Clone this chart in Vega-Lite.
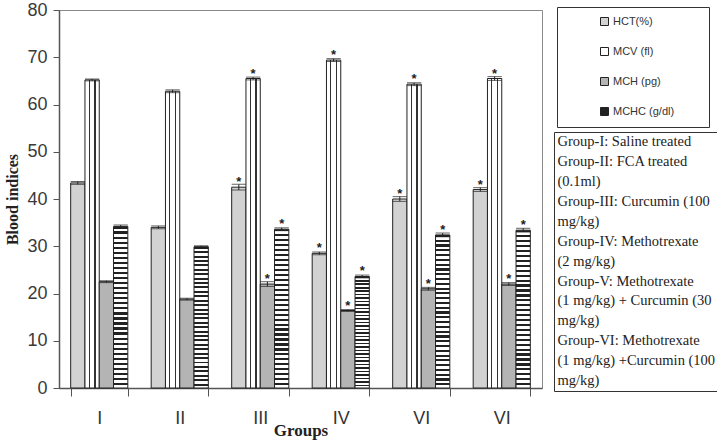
{
  "$schema": "https://vega.github.io/schema/vega-lite/v6.json",
  "width": 483,
  "height": 378,
  "autosize": {"type": "none"},
  "padding": {"left": 59, "top": 10, "right": 175, "bottom": 56},
  "background": "white",
  "config": {"view": {"stroke": "#8a8a8a", "strokeWidth": 1}, "font": "Liberation Sans"},
  "datasets": {
    "bars": [
      {"group": "I", "metric": "HCT(%)", "value": 43.4, "err": 0.3, "sig": ""},
      {"group": "I", "metric": "MCV (fl)", "value": 65.2, "err": 0.2, "sig": ""},
      {"group": "I", "metric": "MCH (pg)", "value": 22.5, "err": 0.2, "sig": ""},
      {"group": "I", "metric": "MCHC (g/dl)", "value": 34.2, "err": 0.3, "sig": ""},
      {"group": "II", "metric": "HCT(%)", "value": 34.0, "err": 0.3, "sig": ""},
      {"group": "II", "metric": "MCV (fl)", "value": 62.8, "err": 0.3, "sig": ""},
      {"group": "II", "metric": "MCH (pg)", "value": 18.8, "err": 0.2, "sig": ""},
      {"group": "II", "metric": "MCHC (g/dl)", "value": 29.9, "err": 0.2, "sig": ""},
      {"group": "III", "metric": "HCT(%)", "value": 42.5, "err": 0.6, "sig": "*"},
      {"group": "III", "metric": "MCV (fl)", "value": 65.5, "err": 0.3, "sig": "*"},
      {"group": "III", "metric": "MCH (pg)", "value": 22.0, "err": 0.5, "sig": "*"},
      {"group": "III", "metric": "MCHC (g/dl)", "value": 33.6, "err": 0.3, "sig": "*"},
      {"group": "IV", "metric": "HCT(%)", "value": 28.5, "err": 0.3, "sig": "*"},
      {"group": "IV", "metric": "MCV (fl)", "value": 69.4, "err": 0.3, "sig": "*"},
      {"group": "IV", "metric": "MCH (pg)", "value": 16.4, "err": 0.2, "sig": "*"},
      {"group": "IV", "metric": "MCHC (g/dl)", "value": 23.6, "err": 0.3, "sig": "*"},
      {"group": "V", "metric": "HCT(%)", "value": 40.0, "err": 0.5, "sig": "*"},
      {"group": "V", "metric": "MCV (fl)", "value": 64.3, "err": 0.3, "sig": "*"},
      {"group": "V", "metric": "MCH (pg)", "value": 21.0, "err": 0.3, "sig": "*"},
      {"group": "V", "metric": "MCHC (g/dl)", "value": 32.4, "err": 0.4, "sig": "*"},
      {"group": "VI", "metric": "HCT(%)", "value": 42.0, "err": 0.4, "sig": "*"},
      {"group": "VI", "metric": "MCV (fl)", "value": 65.5, "err": 0.4, "sig": "*"},
      {"group": "VI", "metric": "MCH (pg)", "value": 22.0, "err": 0.3, "sig": "*"},
      {"group": "VI", "metric": "MCHC (g/dl)", "value": 33.4, "err": 0.4, "sig": "*"}
    ],
    "notes": [
      {"line": "Group-I: Saline treated"},
      {"line": "Group-II: FCA treated"},
      {"line": "(0.1ml)"},
      {"line": "Group-III: Curcumin (100"},
      {"line": "mg/kg)"},
      {"line": "Group-IV: Methotrexate"},
      {"line": "(2 mg/kg)"},
      {"line": "Group-V: Methotrexate"},
      {"line": "(1 mg/kg) + Curcumin (30"},
      {"line": "mg/kg) "},
      {"line": "Group-VI: Methotrexate"},
      {"line": "(1 mg/kg) +Curcumin (100"},
      {"line": "mg/kg)  "}
    ]
  },
  "layer": [
    {
      "data": {"name": "bars"},
      "encoding": {
        "x": {
          "field": "group", "type": "nominal",
          "scale": {"domain": ["I", "II", "III", "IV", "V", "VI"], "paddingInner": 0.29, "paddingOuter": 0.145},
          "axis": {
            "title": "Groups", "titleFont": "Liberation Serif", "titleFontSize": 17, "titleFontWeight": "bold", "titleColor": "#222",
            "titleBaseline": "alphabetic", "titleY": 47,
            "labelFont": "Liberation Sans", "labelFontSize": 18, "labelColor": "#333", "labelAngle": 0, "labelPadding": 13,
            "labelExpr": "datum.label == 'V' ? 'VI' : datum.label",
            "tickBand": "extent", "tickSize": 8, "tickColor": "#555", "domainColor": "#555", "domainWidth": 1.5
          }
        },
        "xOffset": {
          "field": "metric", "type": "nominal",
          "scale": {"domain": ["HCT(%)", "MCV (fl)", "MCH (pg)", "MCHC (g/dl)"], "paddingInner": 0, "paddingOuter": 0}
        },
        "y": {
          "field": "value", "type": "quantitative", "title": "Blood indices",
          "scale": {"domain": [0, 80], "nice": false},
          "axis": {
            "title": "Blood indices", "titleFont": "Liberation Serif", "titleFontSize": 16, "titleFontWeight": "bold", "titleColor": "#222", "titlePadding": 6,
            "labelFont": "Liberation Sans", "labelFontSize": 18, "labelColor": "#3a3a3a", "labelPadding": 6,
            "values": [0, 10, 20, 30, 40, 50, 60, 70, 80], "grid": false,
            "tickSize": 6, "tickColor": "#555", "domainColor": "#555", "domainWidth": 1.5
          }
        }
      },
      "layer": [
        {
          "mark": {"type": "bar", "stroke": "#222", "strokeWidth": 1},
          "encoding": {
            "fill": {
              "field": "metric", "type": "nominal",
              "scale": {
                "domain": ["HCT(%)", "MCV (fl)", "MCH (pg)", "MCHC (g/dl)"],
                "range": [
                  "#d2d2d2",
                  {"expr": "{gradient:'linear',x1:0,y1:0,x2:1,y2:0,stops:[{offset:0,color:'#fff'},{offset:0.26,color:'#fff'},{offset:0.26,color:'#333'},{offset:0.34,color:'#333'},{offset:0.34,color:'#fff'},{offset:0.66,color:'#fff'},{offset:0.66,color:'#333'},{offset:0.74,color:'#333'},{offset:0.74,color:'#fff'},{offset:1,color:'#fff'}]}"},
                  "#b4b4b4",
                  {"expr": "{gradient:'linear',x1:0.5,y1:0,x2:0.5,y2:1,stops:[{offset:0,color:'#222'},{offset:0.014,color:'#222'},{offset:0.014,color:'#fff'},{offset:0.03125,color:'#fff'},{offset:0.03125,color:'#222'},{offset:0.04525,color:'#222'},{offset:0.04525,color:'#fff'},{offset:0.0625,color:'#fff'},{offset:0.0625,color:'#222'},{offset:0.0765,color:'#222'},{offset:0.0765,color:'#fff'},{offset:0.09375,color:'#fff'},{offset:0.09375,color:'#222'},{offset:0.10775,color:'#222'},{offset:0.10775,color:'#fff'},{offset:0.125,color:'#fff'},{offset:0.125,color:'#222'},{offset:0.139,color:'#222'},{offset:0.139,color:'#fff'},{offset:0.15625,color:'#fff'},{offset:0.15625,color:'#222'},{offset:0.17025,color:'#222'},{offset:0.17025,color:'#fff'},{offset:0.1875,color:'#fff'},{offset:0.1875,color:'#222'},{offset:0.2015,color:'#222'},{offset:0.2015,color:'#fff'},{offset:0.21875,color:'#fff'},{offset:0.21875,color:'#222'},{offset:0.23275,color:'#222'},{offset:0.23275,color:'#fff'},{offset:0.25,color:'#fff'},{offset:0.25,color:'#222'},{offset:0.264,color:'#222'},{offset:0.264,color:'#fff'},{offset:0.28125,color:'#fff'},{offset:0.28125,color:'#222'},{offset:0.29525,color:'#222'},{offset:0.29525,color:'#fff'},{offset:0.3125,color:'#fff'},{offset:0.3125,color:'#222'},{offset:0.3265,color:'#222'},{offset:0.3265,color:'#fff'},{offset:0.34375,color:'#fff'},{offset:0.34375,color:'#222'},{offset:0.35775,color:'#222'},{offset:0.35775,color:'#fff'},{offset:0.375,color:'#fff'},{offset:0.375,color:'#222'},{offset:0.389,color:'#222'},{offset:0.389,color:'#fff'},{offset:0.40625,color:'#fff'},{offset:0.40625,color:'#222'},{offset:0.42025,color:'#222'},{offset:0.42025,color:'#fff'},{offset:0.4375,color:'#fff'},{offset:0.4375,color:'#222'},{offset:0.4515,color:'#222'},{offset:0.4515,color:'#fff'},{offset:0.46875,color:'#fff'},{offset:0.46875,color:'#222'},{offset:0.48275,color:'#222'},{offset:0.48275,color:'#fff'},{offset:0.5,color:'#fff'},{offset:0.5,color:'#222'},{offset:0.514,color:'#222'},{offset:0.514,color:'#fff'},{offset:0.53125,color:'#fff'},{offset:0.53125,color:'#222'},{offset:0.54525,color:'#222'},{offset:0.54525,color:'#fff'},{offset:0.5625,color:'#fff'},{offset:0.5625,color:'#222'},{offset:0.5765,color:'#222'},{offset:0.5765,color:'#fff'},{offset:0.59375,color:'#fff'},{offset:0.59375,color:'#222'},{offset:0.60775,color:'#222'},{offset:0.60775,color:'#fff'},{offset:0.625,color:'#fff'},{offset:0.625,color:'#222'},{offset:0.639,color:'#222'},{offset:0.639,color:'#fff'},{offset:0.65625,color:'#fff'},{offset:0.65625,color:'#222'},{offset:0.67025,color:'#222'},{offset:0.67025,color:'#fff'},{offset:0.6875,color:'#fff'},{offset:0.6875,color:'#222'},{offset:0.7015,color:'#222'},{offset:0.7015,color:'#fff'},{offset:0.71875,color:'#fff'},{offset:0.71875,color:'#222'},{offset:0.73275,color:'#222'},{offset:0.73275,color:'#fff'},{offset:0.75,color:'#fff'},{offset:0.75,color:'#222'},{offset:0.764,color:'#222'},{offset:0.764,color:'#fff'},{offset:0.78125,color:'#fff'},{offset:0.78125,color:'#222'},{offset:0.79525,color:'#222'},{offset:0.79525,color:'#fff'},{offset:0.8125,color:'#fff'},{offset:0.8125,color:'#222'},{offset:0.8265,color:'#222'},{offset:0.8265,color:'#fff'},{offset:0.84375,color:'#fff'},{offset:0.84375,color:'#222'},{offset:0.85775,color:'#222'},{offset:0.85775,color:'#fff'},{offset:0.875,color:'#fff'},{offset:0.875,color:'#222'},{offset:0.889,color:'#222'},{offset:0.889,color:'#fff'},{offset:0.90625,color:'#fff'},{offset:0.90625,color:'#222'},{offset:0.92025,color:'#222'},{offset:0.92025,color:'#fff'},{offset:0.9375,color:'#fff'},{offset:0.9375,color:'#222'},{offset:0.9515,color:'#222'},{offset:0.9515,color:'#fff'},{offset:0.96875,color:'#fff'},{offset:0.96875,color:'#222'},{offset:0.98275,color:'#222'},{offset:0.98275,color:'#fff'},{offset:1,color:'#fff'}]}"}
                ]
              },
              "legend": {
                "orient": "none", "legendX": 498, "legendY": -3, "title": " ", "titleOrient": "right", "titlePadding": 26,
                "padding": 9, "strokeColor": "#333", "fillColor": "white",
                "symbolType": "square", "symbolSize": 64, "symbolStrokeColor": "#222", "symbolStrokeWidth": 1, "symbolOffset": 33,
                "labelFont": "Liberation Sans", "labelFontSize": 11, "labelColor": "#333", "labelOffset": 3, "rowPadding": 17
              }
            }
          }
        },
        {
          "mark": {"type": "errorbar", "ticks": true, "color": "#222"},
          "encoding": {
            "yError": {"field": "err"}
          }
        },
        {
          "mark": {"type": "text", "font": "Liberation Sans", "fontSize": 13, "fontWeight": "bold", "baseline": "alphabetic", "dy": -1, "color": "#222"},
          "encoding": {
            "text": {"field": "sig"}
          }
        }
      ]
    },
    {
      "data": {"name": "notes"},
      "mark": {"type": "point", "opacity": 0},
      "encoding": {
        "shape": {
          "field": "line", "type": "nominal", "sort": null,
          "legend": {
            "orient": "none", "legendX": 495, "legendY": 122, "title": null,
            "padding": 3, "strokeColor": "#333", "fillColor": "white",
            "symbolSize": 0, "symbolOpacity": 0, "symbolStrokeWidth": 0, "labelOffset": -14,
            "labelFont": "Liberation Serif", "labelFontSize": 14.5, "labelColor": "#222", "labelLimit": 400, "rowPadding": 4.9
          }
        }
      }
    }
  ]
}
